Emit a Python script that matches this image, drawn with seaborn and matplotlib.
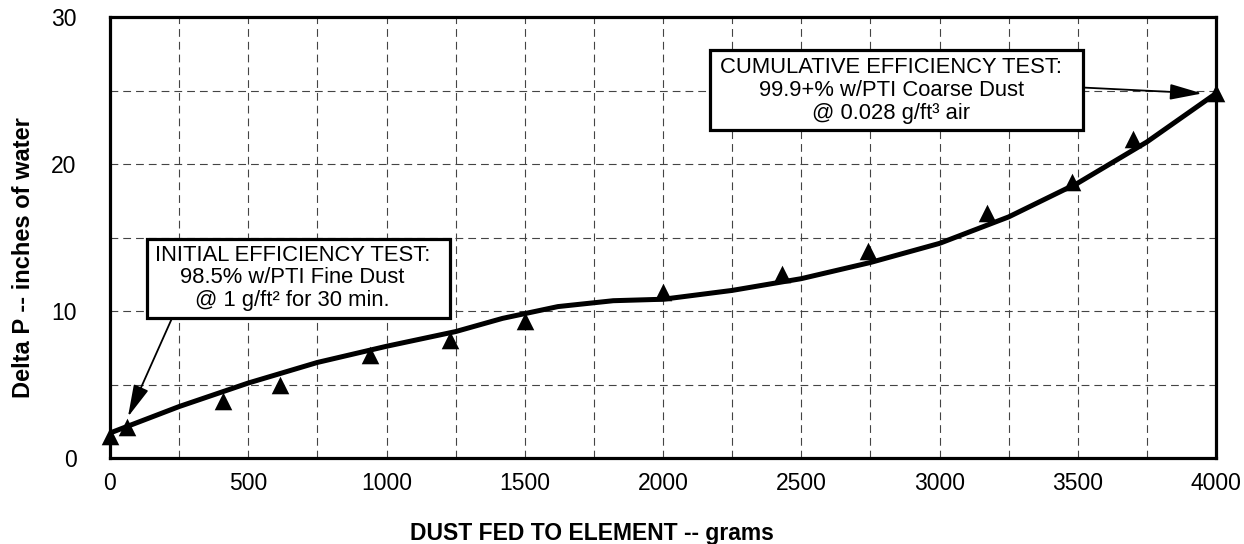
import matplotlib

matplotlib.use("Agg")

import matplotlib.pyplot as plt
from matplotlib.patches import Rectangle
from matplotlib.ticker import MultipleLocator
import pandas as pd
import seaborn as sns

# measured test points (triangles)
sample_grams = [0, 60, 410, 615, 940, 1230, 1500, 2000, 2430, 2740, 3170, 3480, 3700, 4000]
sample_dp = [1.5, 2.1, 3.9, 5.0, 7.0, 8.0, 9.3, 11.3, 12.5, 14.1, 16.7, 18.8, 21.7, 24.8]

# smoothed trend line
curve_grams = [0, 250, 500, 750, 1000, 1250, 1420, 1620, 1820, 2000, 2250, 2500,
               2750, 3000, 3250, 3500, 3750, 4000]
curve_dp = [1.7, 3.5, 5.1, 6.5, 7.6, 8.6, 9.5, 10.3, 10.7, 10.8, 11.4, 12.2,
            13.3, 14.6, 16.4, 18.7, 21.5, 24.8]

x_ticks = [0, 500, 1000, 1500, 2000, 2500, 3000, 3500, 4000]
y_ticks = [0, 10, 20, 30]

initial_note = "INITIAL EFFICIENCY TEST:\n98.5% w/PTI Fine Dust\n@ 1 g/ft² for 30 min."
cumulative_note = "CUMULATIVE EFFICIENCY TEST:\n99.9+% w/PTI Coarse Dust\n@ 0.028 g/ft³ air"

sns.set_theme(style="white")
plt.rcParams["font.family"] = ["Liberation Sans", "DejaVu Sans"]
plt.rcParams["text.color"] = "black"
plt.rcParams["axes.labelcolor"] = "black"

points = pd.DataFrame({"grams": sample_grams, "dp": sample_dp})
curve = pd.DataFrame({"grams": curve_grams, "dp": curve_dp})

fig = plt.figure(figsize=(12.44, 5.44), dpi=100)
ax = fig.add_axes([110 / 1244, 1 - 458 / 544, 1106 / 1244, 441 / 544])

sns.lineplot(data=curve, x="grams", y="dp", ax=ax, color="black", linewidth=3.6,
             sort=False, estimator=None, zorder=3)
sns.scatterplot(data=points, x="grams", y="dp", ax=ax, marker="^", color="black",
                s=160, edgecolor="black", linewidth=0, zorder=4, clip_on=False)

ax.set_xlim(0, 4000)
ax.set_ylim(0, 30)
ax.set_xticks(x_ticks)
ax.set_yticks(y_ticks)
ax.xaxis.set_minor_locator(MultipleLocator(250))
ax.yaxis.set_minor_locator(MultipleLocator(5))
ax.grid(which="both", color="#444444", linewidth=0.8, linestyle=(0, (7, 4.5)))
ax.set_axisbelow(True)
ax.tick_params(axis="both", which="both", length=0, labelsize=16.5, colors="black")
ax.tick_params(axis="y", pad=24)
ax.tick_params(axis="x", pad=10)
for spine in ax.spines.values():
    spine.set_color("black")
    spine.set_linewidth(2.3)

ax.set_xlabel("DUST FED TO ELEMENT -- grams", fontsize=16.5, fontweight="bold")
ax.set_ylabel("Delta P -- inches of water", fontsize=17, fontweight="bold")
ax.xaxis.set_label_coords(0.436, -0.145)
ax.yaxis.set_label_coords(-0.068, 0.454)

arrow_style = dict(arrowstyle="-|>,head_length=0.9,head_width=0.22", color="black",
                   lw=1.3, mutation_scale=22, shrinkA=0, shrinkB=0)

# annotation boxes
ax.add_patch(Rectangle((134, 9.5), 1096, 5.4, transform=ax.transData, facecolor="white",
                       edgecolor="black", linewidth=2.3, zorder=5))
ax.text(660, 12.25, initial_note, ha="center", va="center", multialignment="center",
        fontsize=15.8, linespacing=1.12, color="black", zorder=6)
ax.annotate("", xy=(65, 2.8), xytext=(224, 9.5), arrowprops=arrow_style, zorder=6)

ax.add_patch(Rectangle((2170, 22.3), 1350, 5.45, transform=ax.transData, facecolor="white",
                       edgecolor="black", linewidth=2.3, zorder=5))
ax.text(2825, 25.0, cumulative_note, ha="center", va="center", multialignment="center",
        fontsize=15.8, linespacing=1.12, color="black", zorder=6)
ax.annotate("", xy=(3950, 24.8), xytext=(3520, 25.2), arrowprops=arrow_style, zorder=6)

fig.savefig("out.png", dpi=100)
